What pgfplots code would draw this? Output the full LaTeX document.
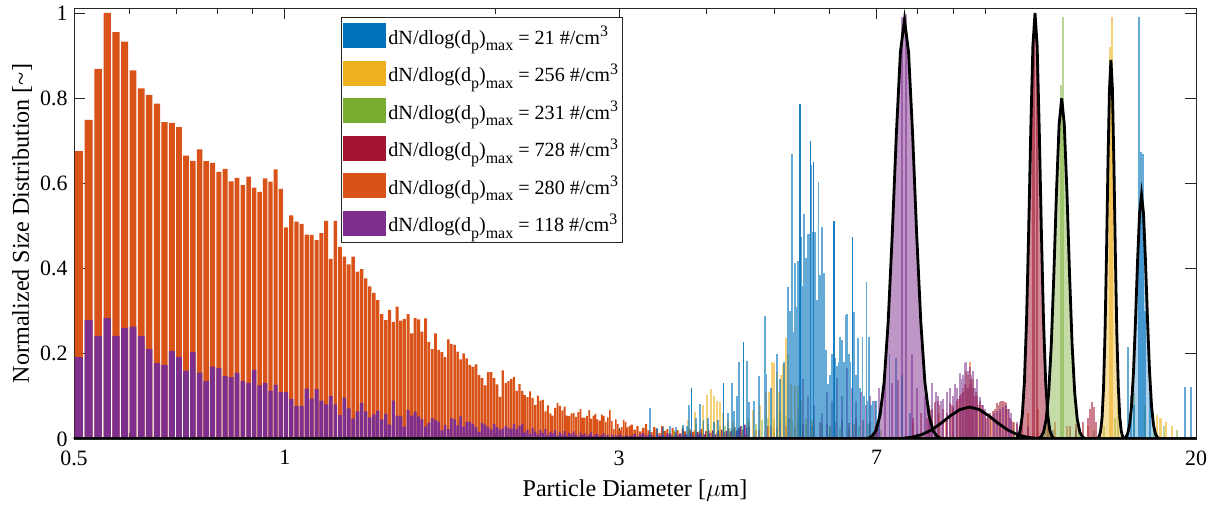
\documentclass[border=0pt]{standalone}
\usepackage{fontspec}
\setmainfont{Liberation Serif}
\usepackage{pgfplots}
\pgfplotsset{compat=1.18}
\usepackage{pgfplotstable}
\definecolor{mblue}{rgb}{0,0.447,0.741}
\definecolor{myellow}{rgb}{0.929,0.694,0.125}
\definecolor{mgreen}{rgb}{0.466,0.674,0.188}
\definecolor{mred}{rgb}{0.635,0.078,0.184}
\definecolor{morange}{rgb}{0.85,0.325,0.098}
\definecolor{mpurple}{rgb}{0.494,0.184,0.556}
\newcommand{\sbs}[1]{\raisebox{-6.5bp}{\fontsize{16}{16}\selectfont #1}}
\newcommand{\sps}[1]{\raisebox{7.5bp}{\fontsize{16}{16}\selectfont #1}}
\newcommand{\legtxt}[1]{dN/dlog(d\sbs{p})\sbs{max} = #1 \#/cm\sps{3}\hspace{6bp}}

% histogram bins (left edges): orange and purple
\pgfplotstableread{
x o p
0.5000 0.676 0.192
0.5165 0.749 0.279
0.5330 0.869 0.242
0.5495 1.000 0.284
0.5660 0.955 0.242
0.5825 0.933 0.261
0.5990 0.865 0.264
0.6155 0.823 0.242
0.6320 0.808 0.211
0.6485 0.787 0.178
0.6650 0.744 0.174
0.6815 0.742 0.207
0.6980 0.732 0.192
0.7145 0.665 0.160
0.7310 0.653 0.204
0.7475 0.680 0.156
0.7640 0.652 0.136
0.7805 0.648 0.170
0.7970 0.627 0.167
0.8135 0.634 0.148
0.8300 0.605 0.145
0.8465 0.613 0.155
0.8630 0.596 0.136
0.8795 0.616 0.131
0.8960 0.590 0.162
0.9125 0.580 0.126
0.9290 0.612 0.131
0.9455 0.604 0.113
0.9620 0.633 0.127
0.9785 0.587 0.110
0.9950 0.497 0.110
1.0127 0.525 0.094
1.0304 0.510 0.078
1.0481 0.505 0.078
1.0658 0.480 0.118
1.0835 0.479 0.095
1.1012 0.467 0.117
1.1189 0.483 0.090
1.1366 0.512 0.081
1.1543 0.423 0.101
1.1720 0.512 0.081
1.1897 0.451 0.056
1.2074 0.428 0.097
1.2251 0.410 0.072
1.2428 0.428 0.048
1.2605 0.393 0.065
1.2782 0.399 0.084
1.2959 0.377 0.065
1.3136 0.358 0.051
1.3313 0.343 0.058
1.3490 0.326 0.066
1.3667 0.293 0.046
1.3844 0.279 0.059
1.4021 0.303 0.034
1.4198 0.275 0.090
1.4375 0.311 0.055
1.4552 0.278 0.053
1.4729 0.282 0.029
1.4906 0.293 0.068
1.5083 0.248 0.055
1.5260 0.284 0.064
1.5437 0.281 0.053
1.5614 0.252 0.046
1.5791 0.283 0.029
1.5968 0.228 0.038
1.6145 0.211 0.049
1.6322 0.248 0.044
1.6499 0.209 0.041
1.6676 0.204 0.020
1.6853 0.192 0.033
1.7030 0.234 0.023
1.7207 0.223 0.049
1.7384 0.221 0.046
1.7561 0.205 0.032
1.7738 0.187 0.053
1.7915 0.201 0.029
1.8092 0.189 0.041
1.8269 0.174 0.040
1.8461 0.169 0.036
1.8653 0.175 0.028
1.8845 0.150 0.017
1.9037 0.143 0.038
1.9229 0.126 0.034
1.9421 0.157 0.028
1.9613 0.157 0.022
1.9805 0.143 0.035
1.9997 0.128 0.028
2.0189 0.099 0.022
2.0381 0.161 0.025
2.0573 0.132 0.030
2.0765 0.136 0.026
2.0957 0.141 0.024
2.1149 0.146 0.035
2.1341 0.113 0.023
2.1533 0.129 0.031
2.1725 0.113 0.036
2.1917 0.103 0.015
2.2109 0.098 0.022
2.2301 0.112 0.012
2.2493 0.096 0.026
2.2685 0.080 0.018
2.2877 0.102 0.010
2.3069 0.090 0.021
2.3261 0.092 0.014
2.3453 0.065 0.024
2.3645 0.079 0.009
2.3837 0.060 0.017
2.4029 0.055 0.013
2.4221 0.073 0.020
2.4413 0.085 0.008
2.4605 0.078 0.016
2.4797 0.067 0.011
2.4989 0.076 0.019
2.5181 0.055 0.007
2.5373 0.054 0.014
2.5565 0.060 0.012
2.5757 0.061 0.018
2.5949 0.052 0.010
2.6141 0.063 0.006
2.6333 0.070 0.015
2.6525 0.050 0.009
2.6717 0.050 0.013
2.6909 0.054 0.008
2.7101 0.068 0.011
2.7293 0.048 0.016
2.7485 0.055 0.007
2.7677 0.059 0.010
2.7869 0.046 0.012
2.8061 0.043 0.006
2.8253 0.057 0.009
2.8445 0.054 0.014
2.8637 0.040 0.008
2.8829 0.051 0.010
2.9021 0.068 0.005
2.9213 0.042 0.011
2.9405 0.023 0.007
2.9597 0.046 0.009
2.9789 0.035 0.006
2.9981 0.020 0.012
3.0173 0.028 0.008
3.0365 0.045 0.005
3.0557 0.040 0.010
3.0749 0.027 0.007
3.0941 0.030 0.006
3.113 0.034 0.008
3.143 0.022 0.012
3.173 0.030 0.006
3.203 0.018 0.010
3.233 0.026 0.014
3.263 0.035 0.007
3.293 0.020 0.011
3.323 0.016 0.009
3.353 0.028 0.005
3.383 0.024 0.012
3.413 0.014 0.008
3.443 0.030 0.010
3.473 0.019 0.006
3.503 0.023 0.013
3.533 0.012 0.009
3.563 0.026 0.007
3.593 0.017 0.011
3.623 0.021 0.008
3.653 0.013 0.012
3.683 0.025 0.006
3.713 0.018 0.010
3.743 0.011 0.009
3.773 0.022 0.014
3.803 0.016 0.007
3.833 0.020 0.011
3.863 0.012 0.016
3.893 0.018 0.009
3.923 0.024 0.013
3.953 0.010 0.010
3.983 0.015 0.018
4.013 0.020 0.012
4.043 0.013 0.015
4.073 0.017 0.020
4.103 0.009 0.011
4.133 0.014 0.017
4.163 0.019 0.014
4.193 0.011 0.022
4.223 0.016 0.016
4.253 0.008 0.019
4.283 0.013 0.025
4.313 0.017 0.018
4.343 0.010 0.023
4.373 0.014 0.028
4.403 0.009 0.020
4.433 0.012 0.026
4.463 0.015 0.030
4.493 0.008 0.022
4.523 0.011 0.034
4.553 0.010 0.027
4.583 0.007 0.032
4.613 0 0
}\bins

% fitted log-normal curves
\pgfplotstableread{
x y
0.5 0
6.707 0.0003
6.798 0.0015
6.890 0.0059
6.983 0.0195
7.077 0.0552
7.173 0.1331
7.269 0.2736
7.368 0.4790
7.467 0.7145
7.568 0.9083
7.670 0.984
7.774 0.9083
7.878 0.7145
7.985 0.4790
8.093 0.2736
8.202 0.1331
8.313 0.0552
8.425 0.0195
8.539 0.0059
8.654 0.0015
8.771 0.0003
20 0
}\gpurple
\pgfplotstableread{
x y
0.5 0
6.929 0
7.151 0.0001
7.380 0.00045
7.617 0.0015
7.861 0.0042
8.113 0.0101
8.373 0.0209
8.642 0.0365
8.919 0.0545
9.205 0.0692
9.500 0.075
9.805 0.0692
10.119 0.0545
10.443 0.0365
10.778 0.0209
11.124 0.0101
11.480 0.0042
11.848 0.0015
12.228 0.00045
12.620 0.0001
13.025 0
20 0
}\gbump
\pgfplotstableread{
x y
0.5 0
10.987 0.0003
11.064 0.0015
11.141 0.0060
11.219 0.0198
11.298 0.0561
11.377 0.1353
11.456 0.2780
11.536 0.4868
11.617 0.7261
11.698 0.9231
11.780 1.0
11.862 0.9231
11.945 0.7261
12.029 0.4868
12.113 0.2780
12.198 0.1353
12.283 0.0561
12.369 0.0198
12.456 0.0060
12.543 0.0015
12.630 0.0003
20 0
}\gred
\pgfplotstableread{
x y
0.5 0
11.806 0.0002
11.908 0.0012
12.010 0.0048
12.113 0.0158
12.217 0.0449
12.322 0.1082
12.428 0.2224
12.534 0.3894
12.642 0.5809
12.751 0.7385
12.860 0.80
12.970 0.7385
13.082 0.5809
13.194 0.3894
13.307 0.2224
13.422 0.1082
13.537 0.0449
13.653 0.0158
13.770 0.0048
13.888 0.0012
14.008 0.0002
20 0
}\ggreen
\pgfplotstableread{
x y
0.5 0
14.402 0.0003
14.472 0.0013
14.543 0.0053
14.614 0.0176
14.685 0.0499
14.757 0.1204
14.829 0.2474
14.901 0.4333
14.973 0.6462
15.047 0.8216
15.120 0.89
15.194 0.8216
15.268 0.6462
15.342 0.4333
15.417 0.2474
15.492 0.1204
15.568 0.0499
15.644 0.0176
15.720 0.0053
15.797 0.0013
15.874 0.0003
20 0
}\gyellow
\pgfplotstableread{
x y
0.5 0
15.656 0.0002
15.759 0.0009
15.863 0.0034
15.968 0.0113
16.073 0.0321
16.179 0.0775
16.286 0.1593
16.393 0.2789
16.502 0.4161
16.610 0.5289
16.720 0.573
16.830 0.5289
16.941 0.4161
17.053 0.2789
17.165 0.1593
17.279 0.0775
17.393 0.0321
17.508 0.0113
17.623 0.0034
17.739 0.0009
17.856 0.0002
20 0
}\gblue

\begin{document}
\begin{tikzpicture}
\begin{axis}[
  name=ax,
  scale only axis, width=1122bp, height=431bp,
  xmode=log, xmin=0.5, xmax=20, ymin=0, ymax=1.0117,
  xtick={0.5,1,3,7,20}, xticklabels={0.5,1,3,7,20},
  minor xtick={0.6,0.7,0.8,0.9,2,4,5,6,8,9,10},
  ytick={0,0.2,0.4,0.6,0.8,1}, yticklabels={0,0.2,0.4,0.6,0.8,1},
  major tick length=11bp, minor tick length=6bp,
  tick style={black!85, line width=0.8bp},
  axis line style={black!85, line width=0.8bp},
  tick label style={font=\fontsize{22}{26}\selectfont},
  xticklabel style={yshift=-8bp},
  yticklabel style={xshift=-3bp},
  label style={font=\fontsize{24.2}{28}\selectfont},
  /pgf/number format/assume math mode=true,
  xlabel={Particle Diameter [$\mu$m]},
  ylabel={Normalized Size Distribution [\symbol{126}]},
  xlabel style={at={([yshift=-58bp]axis description cs:0.5,0)}, anchor=base},
  ylabel style={at={([xshift=-45bp]axis description cs:0,0.5)}, anchor=base},
  legend style={at={(0.238,0.979)}, anchor=north west, draw=black!85, line width=0.8bp,
    fill=white, font=\fontsize{20.2}{23}\selectfont, inner xsep=2bp, inner ysep=6bp,
    row sep=12.5bp, /tikz/every even column/.append style={column sep=4bp}},
  legend cell align=left,
  legend image code/.code={\fill[#1] (0bp,-12.5bp) rectangle (43bp,12.5bp);},
]
\addlegendimage{fill=mblue, draw=none}
\addlegendentry{\legtxt{21}}
\addlegendimage{fill=myellow, draw=none}
\addlegendentry{\legtxt{256}}
\addlegendimage{fill=mgreen, draw=none}
\addlegendentry{\legtxt{231}}
\addlegendimage{fill=mred, draw=none}
\addlegendentry{\legtxt{728}}
\addlegendimage{fill=morange, draw=none}
\addlegendentry{\legtxt{280}}
\addlegendimage{fill=mpurple, draw=none}
\addlegendentry{\legtxt{118}}

% main histograms
\addplot[forget plot, ybar interval, bar interval width=0.82, fill=morange, draw=none] table[x=x, y=o] \bins;
\addplot[forget plot, ybar interval, bar interval width=0.82, fill=mpurple, draw=none] table[x=x, y=p] \bins;

% translucent narrow bars, right part
\addplot[forget plot, ycomb, draw=morange, draw opacity=0.55, line width=2bp] coordinates {
(4.7,0.02)(5.0,0.025)(5.5,0.02)(6.0,0.03)(6.5,0.035)(7.0,0.03)(7.9,0.04)(8.3,0.05)(8.6,0.06)
(8.8,0.05)(9.0,0.08)(9.1,0.09)(9.2,0.10)(9.3,0.12)(9.4,0.16)(9.45,0.15)(9.50,0.181)(9.55,0.13)
(9.6,0.14)(9.7,0.10)(9.8,0.08)(9.9,0.07)(10.0,0.06)(10.2,0.05)(10.5,0.06)
(10.7,0.07)(11.0,0.04)(11.5,0.06)(11.9,0.07)(12.3,0.05)(12.6,0.04)(13.1,0.03)(13.5,0.025)(14.0,0.03)};
\addplot[forget plot, ycomb, draw=mgreen, draw opacity=0.5, line width=2bp] coordinates {
(3.60,0.020)(3.70,0.030)(3.78,0.025)(3.86,0.035)(3.95,0.040)(4.02,0.035)(4.10,0.038)(4.18,0.030)
(4.25,0.030)(4.32,0.025)(4.40,0.028)(4.50,0.030)(4.60,0.040)(4.70,0.035)(4.80,0.045)(4.90,0.050)
(5.00,0.048)(5.10,0.060)(5.20,0.055)(5.30,0.045)(5.40,0.040)(5.55,0.035)(5.70,0.030)(5.85,0.035)
(6.00,0.030)(6.20,0.028)(6.40,0.025)(6.60,0.030)(6.80,0.035)(6.95,0.030)(7.10,0.020)(8.0,0.015)
(9.0,0.012)(10.0,0.015)(11.0,0.020)(11.5,0.03)(12.93,0.990)(12.85,0.830)(13.6,0.04)(14.3,0.02)
(14.8,0.03)(15.3,0.05)(15.5,0.08)(16.3,0.107)(16.9,0.080)(17.4,0.04)(18.0,0.03)(18.8,0.02)};
\addplot[forget plot, ycomb, draw=mred, draw opacity=0.55, line width=2bp] coordinates {
(3.55,0.015)(3.70,0.020)(3.85,0.012)(4.0,0.018)(4.15,0.022)(4.30,0.015)(4.45,0.020)(4.6,0.025)
(4.75,0.020)(4.9,0.030)(5.05,0.025)(5.2,0.030)(5.35,0.028)(5.5,0.035)(5.65,0.030)(5.8,0.040)
(5.95,0.035)(6.1,0.040)(6.25,0.045)(6.4,0.038)(6.55,0.050)(6.7,0.045)(6.85,0.040)(7.0,0.035)
(7.9,0.050)(8.1,0.060)(8.25,0.05)(8.33,0.068)(8.4,0.07)(8.47,0.088)(8.55,0.09)(8.6,0.080)(8.7,0.070)
(8.82,0.060)(8.9,0.085)(8.95,0.08)(9.0,0.075)(9.1,0.090)(9.15,0.095)(9.2,0.100)(9.25,0.105)(9.3,0.110)
(9.35,0.130)(9.4,0.12)(9.45,0.120)(9.5,0.13)(9.55,0.140)(9.61,0.120)(9.66,0.100)(9.71,0.110)
(9.75,0.10)(9.82,0.090)(9.88,0.08)(9.93,0.070)(10.04,0.049)(10.1,0.055)(10.15,0.060)(10.26,0.065)
(10.32,0.07)(10.38,0.084)(10.43,0.08)(10.49,0.088)(10.55,0.09)(10.6,0.090)(10.66,0.088)(10.72,0.085)
(10.78,0.07)(10.84,0.050)(10.9,0.045)(10.96,0.040)(11.1,0.035)(11.3,0.06)
(11.70,0.95)(11.75,0.98)(11.85,0.90)
(13.2,0.03)(13.5,0.035)(13.8,0.04)(14.0,0.05)(14.1,0.07)(14.2,0.088)(14.3,0.075)(14.4,0.04)(14.6,0.02)};
\addplot[forget plot, ycomb, draw=mpurple, draw opacity=0.55, line width=2bp] coordinates {
(4.95,0.03)(5.1,0.04)(5.25,0.05)(5.40,0.07)(5.50,0.14)(5.58,0.10)(5.7,0.08)(5.85,0.06)(5.95,0.11)
(6.05,0.09)(6.15,0.144)(6.25,0.10)(6.35,0.167)(6.45,0.12)(6.55,0.09)(6.65,0.11)(6.75,0.08)(6.85,0.10)
(6.95,0.09)(7.05,0.12)(7.2,0.16)(7.35,0.131)(7.5,0.139)(7.60,0.990)(7.72,0.998)(7.85,0.20)(8.0,0.12)
(8.2,0.10)(8.3,0.08)(8.4,0.131)(8.5,0.11)(8.55,0.100)(8.65,0.09)(8.7,0.094)(8.82,0.110)(8.9,0.119)
(9.0,0.100)(9.05,0.13)(9.1,0.120)(9.2,0.154)(9.25,0.14)(9.3,0.150)(9.35,0.178)(9.40,0.181)(9.45,0.160)
(9.5,0.17)(9.56,0.150)(9.6,0.160)(9.66,0.120)(9.72,0.140)(9.75,0.12)(9.82,0.099)(9.93,0.080)(10.0,0.07)
(10.1,0.050)(10.3,0.060)(10.4,0.065)(10.5,0.070)(10.6,0.075)(10.7,0.080)(10.8,0.07)(10.9,0.060)
(11.1,0.040)(11.5,0.03)(12.5,0.02)(13.5,0.02)};
\addplot[forget plot, ycomb, draw=myellow, draw opacity=0.6, line width=2.2bp] coordinates {
(3.768,0.045)(3.851,0.064)(3.958,0.080)(4.010,0.103)(4.055,0.117)(4.100,0.102)(4.144,0.090)
(4.181,0.088)(4.227,0.060)(4.297,0.045)(4.368,0.040)(4.589,0.050)(4.665,0.068)(4.769,0.080)
(4.864,0.111)(4.917,0.110)(4.956,0.181)(4.998,0.178)(5.038,0.157)(5.076,0.110)(5.105,0.150)
(5.138,0.173)(5.165,0.176)(5.194,0.236)(5.224,0.199)(5.276,0.130)(5.346,0.125)(5.404,0.125)
(5.462,0.090)(5.55,0.05)(5.65,0.045)
(15.10,0.92)(15.17,0.99)(17.6,0.056)(17.8,0.05)(18.1,0.04)(18.5,0.03)};
\addplot[forget plot, ycomb, draw=mblue, draw opacity=0.6, line width=1.8bp] coordinates {
(3.322,0.072)(3.40,0.025)(3.47,0.028)(3.55,0.030)(3.62,0.027)(3.70,0.032)(3.75,0.030)(3.78,0.080)
(3.86,0.050)(3.915,0.082)(3.96,0.045)(4.02,0.050)(4.10,0.040)(4.15,0.045)(4.29,0.060)(4.345,0.131)
(4.38,0.065)(4.42,0.100)(4.447,0.180)(4.565,0.183)(4.60,0.088)(4.68,0.090)(4.753,0.148)(4.843,0.289)
(4.864,0.152)(4.95,0.120)(5.038,0.199)(5.10,0.140)(5.16,0.180)(5.230,0.357)(5.260,0.300)(5.299,0.669)
(5.33,0.250)(5.346,0.414)(5.376,0.311)(5.411,0.418)(5.453,0.473)(5.48,0.360)(5.507,0.528)
(5.543,0.424)(5.574,0.481)(5.603,0.481)(5.650,0.643)(5.666,0.487)(5.710,0.486)(5.747,0.326)
(5.779,0.603)(5.804,0.385)(5.83,0.270)(5.848,0.498)(5.867,0.277)(5.894,0.389)(5.93,0.210)(5.965,0.130)
(6.00,0.150)(6.04,0.200)(6.11,0.190)(6.144,0.172)(6.184,0.180)(6.21,0.240)(6.245,0.232)(6.281,0.180)
(6.316,0.291)(6.357,0.293)(6.39,0.200)(6.421,0.180)(6.497,0.299)(6.54,0.150)(6.583,0.237)(6.62,0.120)
(6.679,0.240)(6.72,0.100)(6.767,0.369)(6.80,0.090)(6.825,0.240)(6.87,0.080)(6.92,0.090)(6.98,0.090)
(7.05,0.060)(7.30,0.200)(7.45,0.190)(7.60,0.150)(7.80,0.060)
(16.01,0.217)(16.15,0.100)(16.3,0.080)(16.57,0.990)(16.70,0.674)(16.78,0.670)(16.9,0.300)(17.2,0.100)
(19.28,0.123)(19.66,0.123)};
\addplot[forget plot, ycomb, draw=mblue, draw opacity=0.9, line width=1.3bp] coordinates {
(3.810,0.119)(4.227,0.131)(4.514,0.227)(5.440,0.786)(5.635,0.700)(5.691,0.650)(6.083,0.512)(6.463,0.475)};

% areas under the fitted curves
\addplot[forget plot, fill=mpurple, fill opacity=0.5, draw=none] table \gpurple \closedcycle;
\addplot[forget plot, fill=mred, fill opacity=0.5, draw=none] table \gred \closedcycle;
\addplot[forget plot, fill=mgreen, fill opacity=0.42, draw=none] table \ggreen \closedcycle;
\addplot[forget plot, fill=myellow, fill opacity=0.42, draw=none] table \gyellow \closedcycle;
\addplot[forget plot, fill=mblue, fill opacity=0.32, draw=none] table \gblue \closedcycle;

% fitted curves
\addplot[forget plot, black, line width=2.8bp] table \gpurple;
\addplot[forget plot, black, line width=2.8bp] table \gbump;
\addplot[forget plot, black, line width=2.8bp] table \gred;
\addplot[forget plot, black, line width=2.8bp] table \ggreen;
\addplot[forget plot, black, line width=2.8bp] table \gyellow;
\addplot[forget plot, black, line width=2.8bp] table \gblue;
\end{axis}
\pgfresetboundingbox
\path[use as bounding box] ([xshift=-74bp,yshift=-69bp]ax.south west) rectangle ([xshift=23bp,yshift=8bp]ax.north east);
\end{tikzpicture}
\end{document}
